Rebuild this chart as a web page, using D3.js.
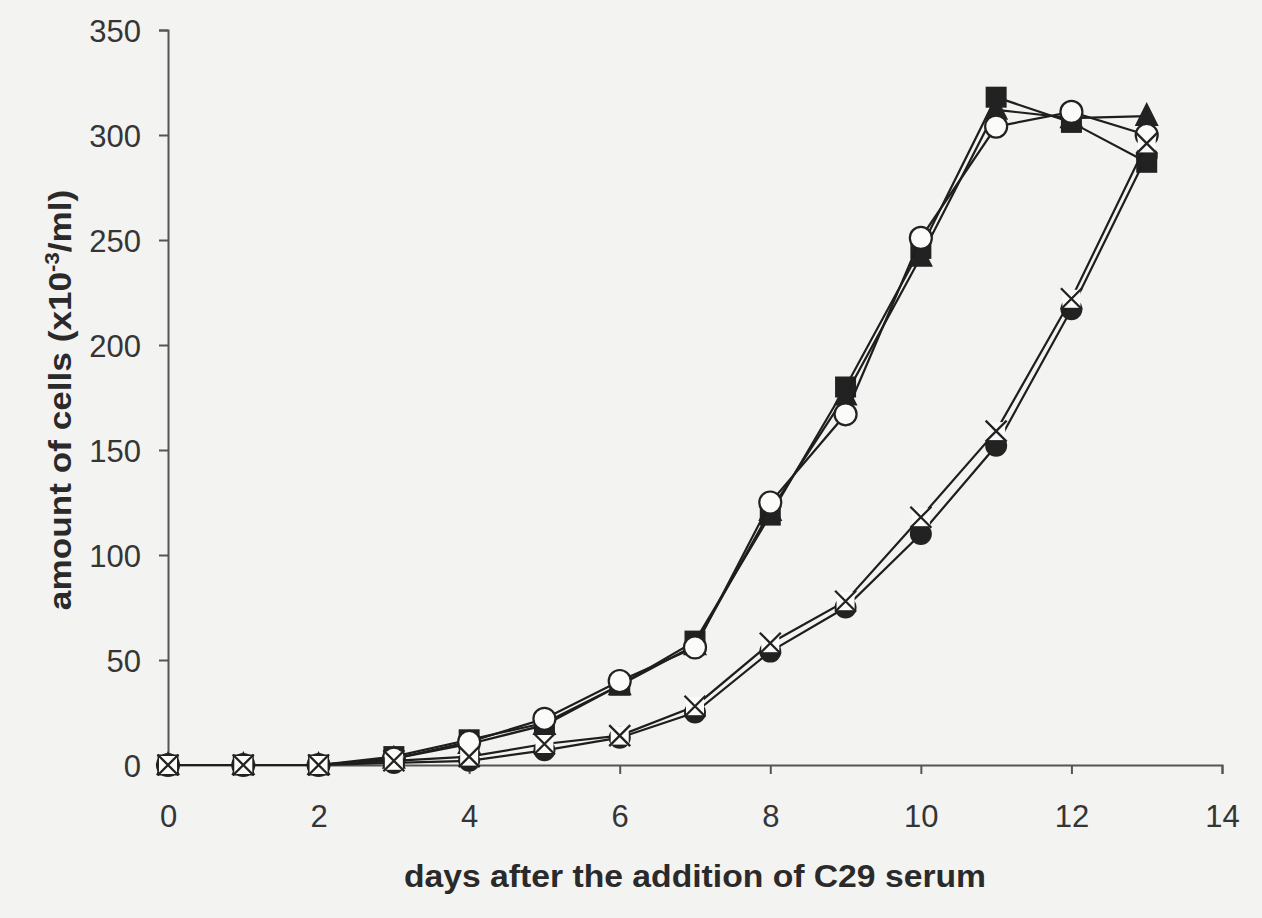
<!DOCTYPE html>
<html>
<head>
<meta charset="utf-8">
<script src="https://cdn.jsdelivr.net/npm/d3@7"></script>
<style>
  body { margin: 0; background: #f3f3f1; }
  svg { display: block; }
  .tick text { font-family: "Liberation Sans", Arial, sans-serif; font-size: 31px; fill: #353535; }
  .label { font-family: "Liberation Sans", Arial, sans-serif; font-size: 32px; font-weight: bold; fill: #2a2a2a; }
</style>
</head>
<body>
<svg id="graph1"></svg>
<script>
// days after addition of serum
var days = [0,1,2,3,4,5,6,7,8,9,10,11,12,13]

// amount of cells (x10^-3/ml)
var filledSquare   = [0,0,0,4,12,20,38,59,119,180,246,318,306,287]
var filledTriangle = [0,0,0,3,10,19,38,57,121,176,242,312,308,309]
var openCircle     = [0,0,0,3,11,22,40,56,125,167,251,304,311,300]
var filledCircle   = [0,0,0,1,2,7,13,25,54,75,110,152,217,290]
var crossMark      = [0,0,0,2,4,10,14,28,58,78,118,159,222,296]

var xTicks = [0,2,4,6,8,10,12,14]
var yTicks = [0,50,100,150,200,250,300,350]

var screen = {width: 1262, height: 918}
var margins = {left: 168, right: 40, top: 30, bottom: 153}

var graph =
    {
        width: screen.width - margins.left - margins.right,
        height: screen.height - margins.top - margins.bottom
    }

var svg = d3.select("#graph1")
    .attr("width", screen.width)
    .attr("height", screen.height)

var xScale = d3.scaleLinear()
    .domain([0,14])
    .range([0, 1222 - margins.left])

var yScale = d3.scaleLinear()
    .domain([0,350])
    .range([graph.height, 0])

var drawAxes = function(target)
{
    var xAxis = d3.axisBottom(xScale).tickValues(xTicks).tickSize(9).tickPadding(31)
    var yAxis = d3.axisLeft(yScale).tickValues(yTicks).tickSize(9).tickPadding(18)

    var gx = target.append("g")
        .attr("transform", "translate(0," + graph.height + ")")
        .call(xAxis)
    var gy = target.append("g")
        .call(yAxis)

    ;[gx, gy].forEach(function(g)
    {
        g.select(".domain").attr("stroke", "#555").attr("stroke-width", 2)
        g.selectAll(".tick line").attr("stroke", "#555").attr("stroke-width", 2)
    })
    gy.selectAll(".tick text").attr("dy", "0.36em")
}

var line = d3.line()
    .x(function(d, i) { return xScale(days[i]) })
    .y(function(d) { return yScale(d) })

var drawSeries = function(target, values, shape)
{
    target.append("path")
        .datum(values)
        .attr("d", line)
        .attr("fill", "none")
        .attr("stroke", "#1e1e1e")
        .attr("stroke-width", 2.2)

    var pts = target.append("g")
        .selectAll("g")
        .data(values)
        .enter()
        .append("g")
        .attr("transform", function(d, i)
        {
            return "translate(" + xScale(days[i]) + "," + yScale(d) + ")"
        })

    if (shape == "square")
    {
        pts.append("rect")
            .attr("x", -10.5).attr("y", -10.5).attr("width", 21).attr("height", 21)
            .attr("fill", "#222")
    }
    else if (shape == "triangle")
    {
        pts.append("path")
            .attr("d", "M0,-14 L12,10 L-12,10 Z")
            .attr("fill", "#222")
    }
    else if (shape == "openCircle")
    {
        pts.append("circle")
            .attr("r", 11)
            .attr("fill", "#fbfbfa")
            .attr("stroke", "#222")
            .attr("stroke-width", 2.2)
    }
    else if (shape == "filledCircle")
    {
        pts.append("circle")
            .attr("r", 11)
            .attr("fill", "#222")
    }
    else if (shape == "cross")
    {
        pts.append("rect")
            .attr("x", -9).attr("y", -9).attr("width", 18).attr("height", 18)
            .attr("fill", "#fbfbfa")
        pts.append("path")
            .attr("d", "M-10.5,-10.5 L10.5,10.5 M10.5,-10.5 L-10.5,10.5")
            .attr("stroke", "#222")
            .attr("stroke-width", 2.3)
            .attr("fill", "none")
    }
}

var drawLabels = function()
{
    svg.append("text")
        .classed("label", true)
        .attr("text-anchor", "middle")
        .attr("x", 695)
        .attr("y", 887)
        .attr("textLength", 582)
        .attr("lengthAdjust", "spacingAndGlyphs")
        .text("days after the addition of C29 serum")

    var yl = svg.append("text")
        .classed("label", true)
        .attr("text-anchor", "middle")
        .attr("transform", "translate(71," + 400 + ") rotate(-90) scale(1.1,1)")
    yl.append("tspan").text("amount of cells (x10")
    yl.append("tspan").text("-3").attr("font-size", "20px").attr("dy", "-12")
    yl.append("tspan").text("/ml)").attr("dy", "12")
}

var target = svg.append("g")
    .attr("transform", "translate(" + margins.left + "," + margins.top + ")")

drawAxes(target)
drawSeries(target, filledSquare, "square")
drawSeries(target, filledTriangle, "triangle")
drawSeries(target, openCircle, "openCircle")
drawSeries(target, filledCircle, "filledCircle")
drawSeries(target, crossMark, "cross")
drawLabels()
</script>
</body>
</html>
